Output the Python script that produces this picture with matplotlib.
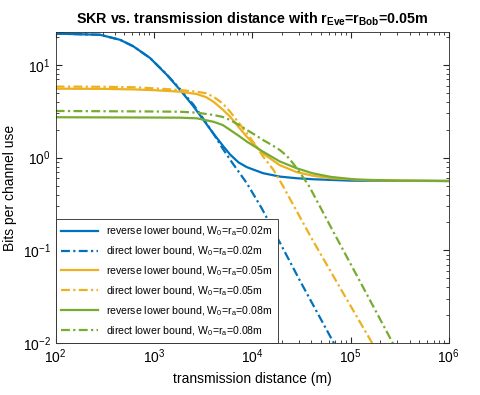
import matplotlib.pyplot as plt

plt.rcParams['font.family'] = ['Liberation Sans', 'DejaVu Sans']
plt.rcParams['mathtext.fontset'] = 'custom'
plt.rcParams['mathtext.rm'] = 'Liberation Sans'
plt.rcParams['mathtext.bf'] = 'Liberation Sans:bold'
plt.rcParams['mathtext.default'] = 'regular'

# values (distance in m, SKR in bits per channel use)
dist_rev_002 = [100, 282, 452, 617, 912, 1349, 1841, 2512, 3388, 4027, 5012, 5957, 7244, 8810,
                12882, 19055, 28184, 41687, 100000, 1000000]
skr_rev_002 = [21.8, 21.2, 18.7, 15.9, 11.9, 7.85, 5.4, 3.6, 2.34, 1.82, 1.35, 1.08, 0.89, 0.79,
               0.68, 0.625, 0.6, 0.585, 0.565, 0.56]

dist_dir_002 = [100, 282, 452, 617, 912, 1349, 1841, 2512, 2951, 3981, 5012, 6310, 8810, 12589,
                17783, 31623, 67608, 100000]
skr_dir_002 = [21.8, 21.2, 18.7, 15.9, 11.9, 7.9, 5.5, 3.75, 2.95, 1.85, 1.25, 0.87, 0.53, 0.28,
               0.14, 0.044, 0.01, 0.0046]

dist_rev_005 = [100, 316, 631, 1000, 1841, 2723, 3388, 4027, 5012, 5957, 7244, 8810, 12882, 15849,
                19055, 28184, 40738, 63096, 158489, 1000000]
skr_rev_005 = [5.55, 5.52, 5.45, 5.35, 5.15, 4.86, 4.5, 4.02, 3.3, 2.77, 2.15, 1.68, 1.11, 0.95,
               0.83, 0.7, 0.64, 0.6, 0.57, 0.56]

dist_dir_005 = [100, 316, 631, 1000, 1841, 2723, 3388, 4027, 5012, 5957, 7244, 8810, 10715, 12882,
                16406, 20417, 39811, 79433, 165959, 199526]
skr_dir_005 = [5.85, 5.82, 5.75, 5.6, 5.37, 5.15, 4.95, 4.55, 3.85, 3.13, 2.4, 1.83, 1.38, 1.03,
               0.74, 0.5, 0.137, 0.0384, 0.01, 0.0071]

dist_rev_008 = [100, 316, 1000, 1841, 2723, 4027, 5012, 5957, 7244, 8810, 10715, 12882, 15849,
                19055, 28184, 40738, 63096, 114815, 316228, 1000000]
skr_rev_008 = [2.73, 2.72, 2.71, 2.7, 2.66, 2.44, 2.25, 1.99, 1.73, 1.49, 1.31, 1.16, 1.02,
               0.91, 0.77, 0.68, 0.62, 0.58, 0.565, 0.56]

dist_dir_008 = [100, 316, 1000, 1841, 2723, 4027, 5012, 5957, 7244, 8810, 10715, 12882, 15849,
                19055, 22387, 26002, 32734, 38019, 63096, 125893, 269153, 316228]
skr_dir_008 = [3.19, 3.17, 3.15, 3.13, 3.06, 2.89, 2.75, 2.55, 2.27, 1.99, 1.76, 1.55, 1.37,
               1.21, 1.05, 0.87, 0.62, 0.49, 0.178, 0.0454, 0.01, 0.0073]

blue = '#0072BD'
orange = '#EDB120'
green = '#77AC30'
dashdot = (0, (4, 1.5, 1, 1.5))

fig = plt.figure(figsize=(4.8, 3.95), dpi=100)
ax = fig.add_axes([0.116, 0.1316, 0.819, 0.7874])

lw = 1.6
ax.plot(dist_rev_002, skr_rev_002, color=blue, lw=lw, label='reverse lower bound, W$_0$=r$_a$=0.02m')
ax.plot(dist_dir_002, skr_dir_002, color=blue, lw=lw, ls=dashdot, label='direct lower bound, W$_0$=r$_a$=0.02m')
ax.plot(dist_rev_005, skr_rev_005, color=orange, lw=lw, label='reverse lower bound, W$_0$=r$_a$=0.05m')
ax.plot(dist_dir_005, skr_dir_005, color=orange, lw=lw, ls=dashdot, label='direct lower bound, W$_0$=r$_a$=0.05m')
ax.plot(dist_rev_008, skr_rev_008, color=green, lw=lw, label='reverse lower bound, W$_0$=r$_a$=0.08m')
ax.plot(dist_dir_008, skr_dir_008, color=green, lw=lw, ls=dashdot, label='direct lower bound, W$_0$=r$_a$=0.08m')

ax.set_xscale('log')
ax.set_yscale('log')
ax.set_xlim(1e2, 1e6)
ax.set_ylim(1e-2, 22.7)
ax.tick_params(which='both', direction='in', top=True, right=True, labelsize=10, color='#262626')
ax.tick_params(which='major', length=4)
ax.tick_params(which='minor', length=2)
for s in ax.spines.values():
    s.set_color('#262626')
    s.set_linewidth(0.6)

ax.set_xlabel('transmission distance (m)', fontsize=10)
ax.set_ylabel('Bits per channel use', fontsize=10)
ax.set_title(r'SKR vs. transmission distance with r$_{\mathbf{Eve}}$=r$_{\mathbf{Bob}}$=0.05m',
             fontsize=10.3, fontweight='bold')

leg = ax.legend(loc='lower left', fontsize=7.6, borderaxespad=0, handlelength=3.5,
                labelspacing=0.6, borderpad=0.5, fancybox=False, edgecolor='#262626', framealpha=1)
leg.get_frame().set_linewidth(0.6)

fig.savefig('out.png', dpi=100)
